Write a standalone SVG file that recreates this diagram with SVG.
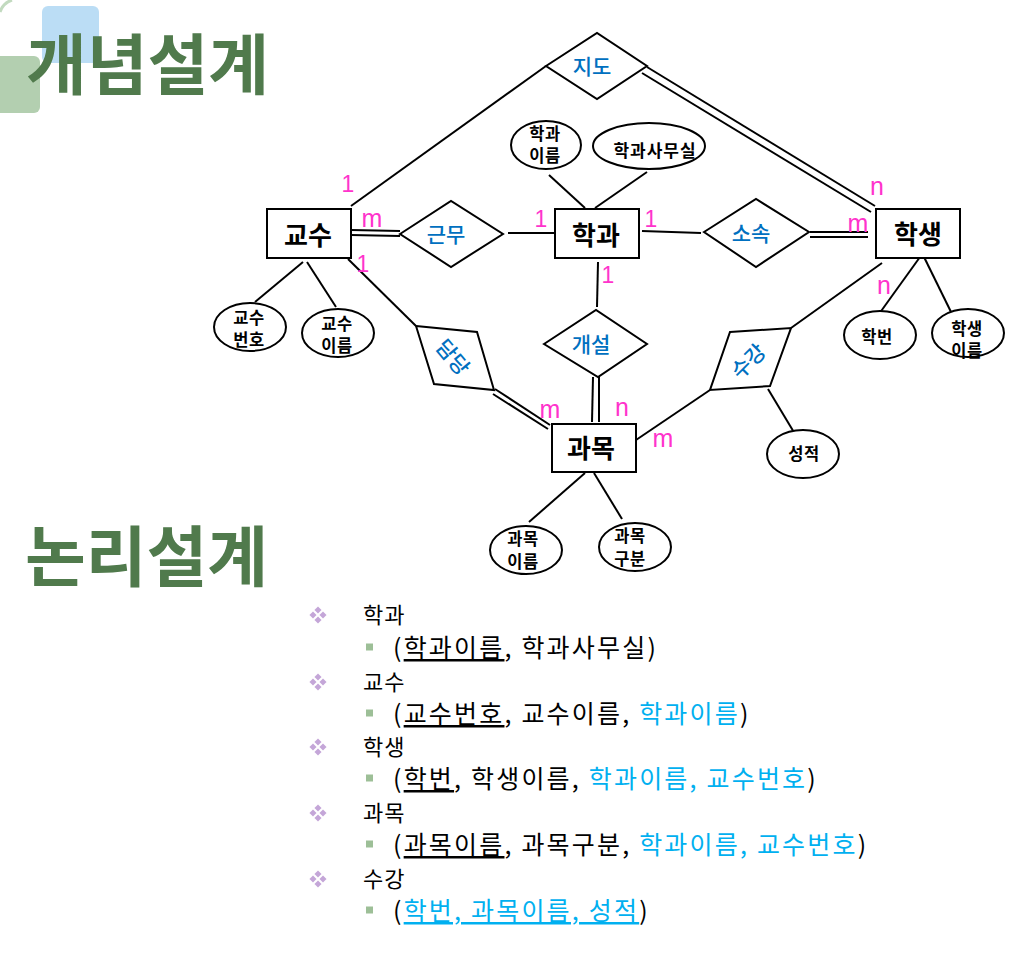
<svg xmlns="http://www.w3.org/2000/svg" width="1028" height="955" viewBox="0 0 1028 955">
<style>
.title{font-family:"Noto Sans CJK KR",sans-serif;font-size:66px;font-weight:bold;fill:#507A4C}
.ent rect{fill:#fff;stroke:#000;stroke-width:2}
.ent text{font-family:"Noto Sans CJK KR",sans-serif;font-size:26px;font-weight:bold;fill:#000;text-anchor:middle}
.rel polygon{fill:#fff;stroke:#000;stroke-width:2}
.rel text{font-family:"Noto Sans CJK KR",sans-serif;font-size:21px;font-weight:500;fill:#0070C0;text-anchor:middle}
.att ellipse{fill:#fff;stroke:#000;stroke-width:2}
.att text{font-family:"Noto Sans CJK KR",sans-serif;font-size:16.5px;font-weight:bold;fill:#000;text-anchor:middle;letter-spacing:0.5px}
.conn line{stroke:#000;stroke-width:2}
.card{font-family:"Liberation Sans",Arial,sans-serif;fill:#FF33CC;text-anchor:middle}
.d{font-size:23px}
.l{font-size:25px}
.h{font-family:"Noto Sans CJK KR",sans-serif;font-size:22px;fill:#000;letter-spacing:1px}
.s{font-family:"Noto Sans CJK KR",sans-serif;font-size:25px;fill:#000;letter-spacing:2.2px}
.fk{fill:#00B0F0}
.u{text-decoration:underline}
</style>
<defs>
<g id="pb" fill="#C4A6D8">
<rect x="-2.5" y="-2.5" width="5" height="5" transform="translate(0,-5) rotate(45)"/>
<rect x="-2.5" y="-2.5" width="5" height="5" transform="translate(0,5) rotate(45)"/>
<rect x="-2.5" y="-2.5" width="5" height="5" transform="translate(-5,0) rotate(45)"/>
<rect x="-2.5" y="-2.5" width="5" height="5" transform="translate(5,0) rotate(45)"/>
</g>
<rect id="gb" x="-3.5" y="-3.5" width="7" height="7" fill="#9DBF97"/>
</defs>

<g id="deco">
<path d="M0,12 Q3,3 12,0" fill="none" stroke="#C2DABF" stroke-width="3"/>
<rect x="42" y="6" width="57" height="57" rx="6" fill="#BBDDF5"/>
<rect x="-10" y="56" width="50" height="57" rx="6" fill="#B3CFB0"/>
</g>

<g id="title1"><text class="title" x="26" y="89">개념설계</text></g>
<g id="title2"><text class="title" x="25" y="581">논리설계</text></g>

<g id="connectors" class="conn">
<line x1="546" y1="66" x2="351" y2="206"/>
<line x1="647" y1="67" x2="875" y2="206"/>
<line x1="642" y1="73" x2="871" y2="212"/>
<line x1="351" y1="230" x2="400" y2="231"/>
<line x1="351" y1="235" x2="400" y2="236"/>
<line x1="508" y1="233" x2="555" y2="233"/>
<line x1="642" y1="231" x2="701" y2="233"/>
<line x1="810" y1="232" x2="868" y2="232"/>
<line x1="810" y1="237" x2="868" y2="237"/>
<line x1="549" y1="175" x2="585" y2="208"/>
<line x1="647" y1="172" x2="595" y2="208"/>
<line x1="598" y1="262" x2="597" y2="307"/>
<line x1="593" y1="377" x2="592" y2="422"/>
<line x1="599" y1="377" x2="599" y2="422"/>
<line x1="348" y1="259" x2="416" y2="326"/>
<line x1="495" y1="389" x2="550" y2="425"/>
<line x1="493" y1="394" x2="548" y2="429"/>
<line x1="636" y1="440" x2="710" y2="390"/>
<line x1="791" y1="328" x2="882" y2="263"/>
<line x1="768" y1="389" x2="795" y2="434"/>
<line x1="303" y1="262" x2="255" y2="302"/>
<line x1="307" y1="262" x2="336" y2="307"/>
<line x1="920" y1="257" x2="879" y2="314"/>
<line x1="924" y1="257" x2="953" y2="316"/>
<line x1="585" y1="473" x2="529" y2="522"/>
<line x1="594" y1="473" x2="622" y2="519"/>
</g>

<g id="e-gyosu" class="ent"><rect x="267" y="209" width="84" height="49"/><text x="308" y="245">교수</text></g>
<g id="e-hakgwa" class="ent"><rect x="555" y="209" width="84" height="49"/><text x="596" y="245">학과</text></g>
<g id="e-haksaeng" class="ent"><rect x="876" y="209" width="84" height="49"/><text x="918" y="244">학생</text></g>
<g id="e-gwamok" class="ent"><rect x="552" y="424" width="84" height="48"/><text x="591" y="458">과목</text></g>

<g id="r-jido" class="rel"><polygon points="546,66 597,33 647,66 597,99"/><text x="592" y="74">지도</text></g>
<g id="r-geunmu" class="rel"><polygon points="400,234 451,201 503,234 451,267"/><text x="446" y="242">근무</text></g>
<g id="r-sosok" class="rel"><polygon points="704,232 756,199 809,232 756,267"/><text x="751" y="241">소속</text></g>
<g id="r-gaeseol" class="rel"><polygon points="544,344 596,310 647,344 598,377"/><text x="591" y="352">개설</text></g>
<g id="r-damdang" class="rel"><polygon points="416,326 477,332 494,390 434,384"/><text transform="translate(453,357) rotate(50)" x="0" y="8">담당</text></g>
<g id="r-sugang" class="rel"><polygon points="730,332 791,328 770,386 710,390"/><text transform="translate(748,361) rotate(-45)" x="0" y="8">수강</text></g>

<g id="a-hakgwaname" class="att"><ellipse cx="546" cy="145" rx="35" ry="24"/><text x="545" y="140">학과</text><text x="545" y="162">이름</text></g>
<g id="a-office" class="att"><ellipse cx="649" cy="146" rx="56" ry="23"/><text x="655" y="157" style="font-size:17px;letter-spacing:1px">학과사무실</text></g>
<g id="a-gyosuno" class="att"><ellipse cx="250" cy="327" rx="36" ry="24"/><text x="249" y="324">교수</text><text x="249" y="346">번호</text></g>
<g id="a-gyosuname" class="att"><ellipse cx="338" cy="333" rx="36" ry="24"/><text x="337" y="330">교수</text><text x="337" y="352">이름</text></g>
<g id="a-hakbeon" class="att"><ellipse cx="880" cy="335" rx="36" ry="24"/><text x="877" y="343">학번</text></g>
<g id="a-haksaengname" class="att"><ellipse cx="968" cy="333" rx="36" ry="24"/><text x="967" y="335">학생</text><text x="967" y="357">이름</text></g>
<g id="a-seongjeok" class="att"><ellipse cx="803" cy="454" rx="36" ry="24"/><text x="804" y="460">성적</text></g>
<g id="a-gwamokname" class="att"><ellipse cx="526" cy="550" rx="36" ry="24"/><text x="523" y="545">과목</text><text x="523" y="568">이름</text></g>
<g id="a-gwamokgubun" class="att"><ellipse cx="635" cy="547" rx="36" ry="24"/><text x="630" y="542">과목</text><text x="630" y="565">구분</text></g>

<g id="cardinalities">
<text class="card d" x="348" y="192">1</text>
<text class="card l" x="372" y="227">m</text>
<text class="card d" x="363" y="272">1</text>
<text class="card d" x="541" y="227">1</text>
<text class="card d" x="651" y="227">1</text>
<text class="card d" x="608" y="283">1</text>
<text class="card l" x="877" y="195">n</text>
<text class="card l" x="858" y="232">m</text>
<text class="card l" x="884" y="294">n</text>
<text class="card l" x="550" y="418">m</text>
<text class="card l" x="622" y="416">n</text>
<text class="card l" x="663" y="447">m</text>
</g>

<g id="logical">
<use href="#pb" x="318" y="615"/>
<text class="h" x="363" y="623">학과</text>
<use href="#gb" x="369.5" y="647"/>
<text class="s" x="393" y="657">(<tspan class="u">학과이름</tspan>, 학과사무실)</text>

<use href="#pb" x="318" y="682"/>
<text class="h" x="363" y="690">교수</text>
<use href="#gb" x="369.5" y="713"/>
<text class="s" x="393" y="723">(<tspan class="u">교수번호</tspan>, 교수이름, <tspan class="fk">학과이름</tspan>)</text>

<use href="#pb" x="318" y="747"/>
<text class="h" x="363" y="755">학생</text>
<use href="#gb" x="369.5" y="778"/>
<text class="s" x="393" y="788">(<tspan class="u">학번</tspan>, 학생이름, <tspan class="fk">학과이름, 교수번호</tspan>)</text>

<use href="#pb" x="318" y="813"/>
<text class="h" x="363" y="821">과목</text>
<use href="#gb" x="369.5" y="844"/>
<text class="s" x="393" y="854">(<tspan class="u">과목이름</tspan>, 과목구분, <tspan class="fk">학과이름, 교수번호</tspan>)</text>

<use href="#pb" x="318" y="879"/>
<text class="h" x="363" y="887">수강</text>
<use href="#gb" x="369.5" y="910"/>
<text class="s" x="393" y="920">(<tspan class="fk u">학번, 과목이름, 성적</tspan>)</text>
</g>
</svg>
